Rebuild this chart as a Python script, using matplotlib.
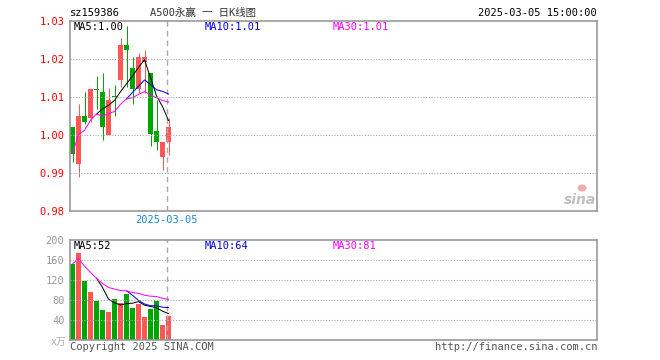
import matplotlib.pyplot as plt
from matplotlib.patches import Ellipse
import numpy as np

# daily K-line data
opens = [1.0022, 0.9923, 1.0051, 1.0044, 1.0121, 1.0114, 1.0000, 1.0103, 1.0144,
         1.0236, 1.0175, 1.0122, 1.0193, 1.0164, 1.0011, 0.9941, 0.9982]
closes = [0.9951, 1.0051, 1.0033, 1.0122, 1.0119, 1.0022, 1.0093, 1.0101, 1.0236,
          1.0225, 1.0122, 1.0204, 1.0204, 1.0002, 0.9982, 0.9982, 1.0022]
highs = [1.0022, 1.0082, 1.0113, 1.0122, 1.0154, 1.0164, 1.0123, 1.0132, 1.0254,
         1.0286, 1.0204, 1.0216, 1.0225, 1.0164, 1.0093, 0.9982, 1.0044]
lows = [0.9928, 0.9889, 1.0030, 1.0033, 1.0068, 0.9988, 1.0000, 1.0049, 1.0126,
        1.0126, 1.0082, 1.0111, 1.0111, 0.9970, 0.9960, 0.9909, 0.9948]
nan = np.nan
ma5 = [nan, nan, nan, nan, 1.0055, 1.0069, 1.0078, 1.0091, 1.0114, 1.0135, 1.0155,
       1.0178, 1.0198, 1.0151, 1.0103, 1.0075, 1.0038]
ma10 = [nan] * 9 + [1.0095, 1.0112, 1.0128, 1.0145, 1.0133, 1.0119, 1.0115, 1.0108]
ma30 = [0.9951, 1.0001, 1.0012, 1.0039, 1.0055, 1.0050, 1.0056, 1.0062, 1.0081,
        1.0095, 1.0098, 1.0107, 1.0114, 1.0106, 1.0098, 1.0091, 1.0087]

# volume (x万)
vol = [152, 174, 118, 96, 78, 60, 56, 82, 74, 92, 64, 72, 46, 62, 78, 30, 48]
vma5 = [nan, nan, nan, nan, 123.6, 105.2, 81.6, 74.4, 70.0, 72.8, 73.6, 76.8, 69.6,
        67.2, 64.4, 57.6, 52.8]
vma10 = [nan] * 9 + [98.2, 89.4, 79.2, 72.0, 68.6, 68.6, 65.6, 64.8]
vma30 = [152, 163, 148, 135, 123.6, 113, 105, 102, 98.9, 98.2, 95.1, 93.2, 89.6,
         87.6, 87.0, 83.4, 81.3]

price_ticks = [0.98, 0.99, 1.00, 1.01, 1.02, 1.03]
vol_ticks = [40, 80, 120, 160, 200]

RED = '#ff5555'
GREEN = '#00a600'
BORDER = '#999999'
FONT = ['DejaVu Sans Mono', 'Noto Sans CJK SC']
plt.rcParams['font.family'] = FONT

W, H = 660, 360
fig = plt.figure(figsize=(W / 100, H / 100), dpi=100)


def px_ax(left, top, right, bottom):
    return fig.add_axes([left / W, 1 - bottom / H, (right - left) / W, (bottom - top) / H])


ax1 = px_ax(70, 21, 597, 211)
ax2 = px_ax(70, 240, 597, 340)

x = np.arange(len(opens))
xmin = -2.5 / 6
xmax = xmin + 527 / 6
bw = 5 / 6
lw = 0.72

for ax in (ax1, ax2):
    ax.set_xlim(xmin, xmax)
    for s in ax.spines.values():
        s.set_color(BORDER)
        s.set_linewidth(1.2)
    ax.set_xticks([])
    ax.tick_params(axis='y', length=0, pad=4)
    ax.axvline(16 - 0.3, color='#aaaaaa', lw=1, ls=(0, (4, 3)))

# candles
colors = [RED if c >= o else GREEN for o, c in zip(opens, closes)]
ax1.vlines(x, lows, highs, colors=colors, lw=lw)
bottoms = np.minimum(opens, closes)
heights = np.maximum(np.abs(np.array(closes) - np.array(opens)), 0.00003)
ax1.bar(x, heights, bottom=bottoms, width=bw, color=colors, linewidth=0)
ax1.plot(x, ma5, color='black', lw=lw)
ax1.plot(x, ma10, color='#0000dd', lw=lw)
ax1.plot(x, ma30, color='#ff00ff', lw=lw)
ax1.set_ylim(0.98, 1.03)
ax1.set_yticks(price_ticks)
ax1.set_yticklabels([f'{t:.2f}' for t in price_ticks], color='red', fontsize=7.5)
for t in price_ticks[1:-1]:
    ax1.axhline(t, color='#aaaaaa', lw=0.8, ls=(0, (1, 1.5)))

# volume
ax2.bar(x, vol, width=bw, color=colors, linewidth=0)
ax2.plot(x, vma5, color='black', lw=lw)
ax2.plot(x, vma10, color='#0000dd', lw=lw)
ax2.plot(x, vma30, color='#ff00ff', lw=lw)
ax2.set_ylim(0, 200)
ax2.set_yticks(vol_ticks)
ax2.set_yticklabels([str(t) for t in vol_ticks], color='#999999', fontsize=7.5)
for t in vol_ticks[:-1]:
    ax2.axhline(t, color='#aaaaaa', lw=0.8, ls=(0, (1, 1.5)))


def ptext(px, py, s, **kw):
    kw.setdefault('fontsize', 7.5)
    kw.setdefault('va', 'center')
    fig.text(px / W, 1 - py / H, s, **kw)


ptext(70, 13, 'sz159386', color='black')
ptext(150, 13, 'A500永赢 一 日K线图', color='#333333')
ptext(597, 13, '2025-03-05 15:00:00', color='black', ha='right')

ptext(74, 27, 'MA5:1.00', color='black')
ptext(205, 27, 'MA10:1.01', color='#0000dd')
ptext(333, 27, 'MA30:1.01', color='#ff00ff')

ptext(74, 246, 'MA5:52', color='black')
ptext(205, 246, 'MA10:64', color='#0000dd')
ptext(333, 246, 'MA30:81', color='#ff00ff')

ptext(166, 220, '2025-03-05', color='#1a8ad4', ha='center')
ptext(66, 342, 'x万', color='#aaaaaa', ha='right', fontsize=7)
ptext(70, 347, 'Copyright 2025 SINA.COM', color='#555555')
ptext(597, 347, 'http://finance.sina.com.cn', color='#555555', ha='right')

# sina watermark
ptext(580, 200, 'sina', color='#c0c0c0', ha='center', fontsize=10,
      fontweight='bold', style='italic', family='DejaVu Sans')
fig.patches.append(Ellipse((582, H - 188), 9, 7, transform=None,
                           facecolor='#f5a8a8', edgecolor='none'))

fig.savefig('out.png', dpi=100)
